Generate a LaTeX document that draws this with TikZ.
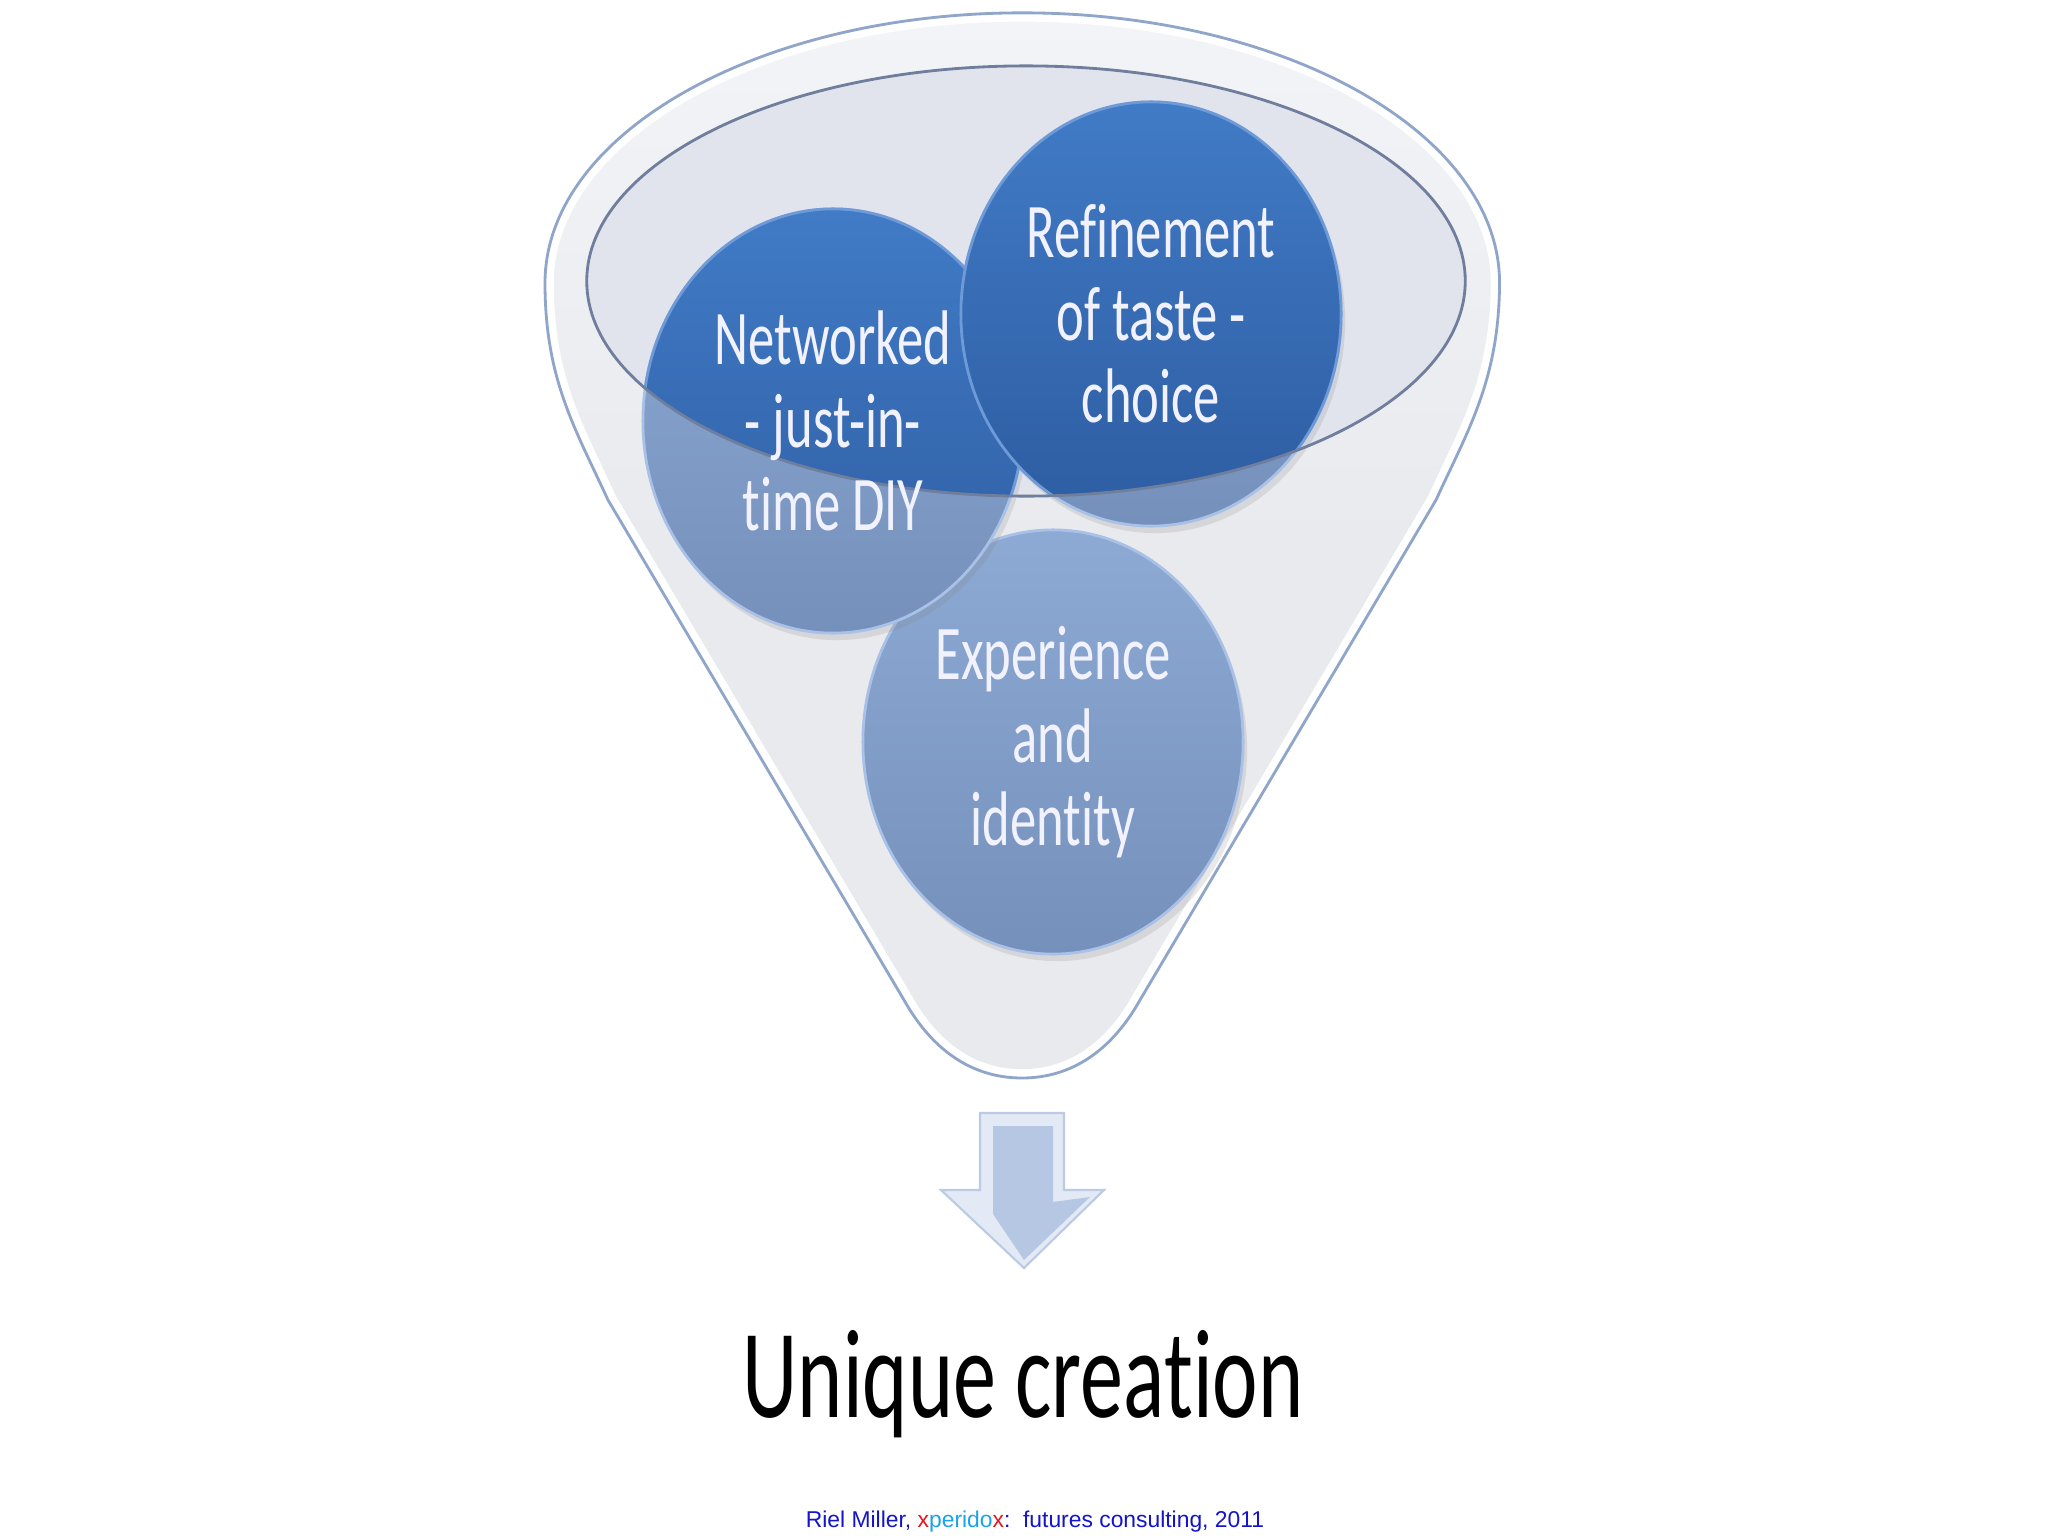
\documentclass[tikz,border=0pt]{standalone}
\usepackage{fontspec}
\usepackage{tikz}
\usetikzlibrary{shapes.geometric}
\usetikzlibrary{shadows}
\newfontfamily\bubblefont[FakeStretch=0.68,Ligatures={NoCommon,NoRequired,NoContextual}]{Carlito}
\newfontfamily\creditfont{Liberation Sans}
\definecolor{funnelfill}{HTML}{E9EAED}
\definecolor{rimband}{HTML}{F3F4F7}
\definecolor{rimfill}{HTML}{E1E4ED}
\definecolor{rimline}{HTML}{6E7E9C}
\definecolor{funneledge}{HTML}{8FA5C9}
\definecolor{paletop}{HTML}{8DAAD4}
\definecolor{palebot}{HTML}{7591BB}
\definecolor{paleedge}{HTML}{A9C1E6}
\definecolor{deeptop}{HTML}{417BC6}
\definecolor{deepbot}{HTML}{2D5CA1}
\definecolor{deepedge}{HTML}{6E9BD8}
\definecolor{arrowbevel}{HTML}{E3E9F5}
\definecolor{arrowbody}{HTML}{B6C7E4}
\definecolor{arrowedge}{HTML}{BCCAE3}
\definecolor{creditblue}{HTML}{1414C8}
\definecolor{creditred}{HTML}{E8141A}
\definecolor{creditcyan}{HTML}{1AA3E8}
\tikzset{%
    bubble/.style={ellipse,minimum width=3.8cm,minimum height=4.24cm,inner sep=0pt,outer sep=0pt},
    bubblepale/.style={bubble,top color=paletop,bottom color=palebot,draw=paleedge,line width=0.8pt,
        drop shadow={shadow xshift=0.4mm,shadow yshift=-0.7mm,opacity=0.18}},
    bubbledeep/.style={bubble,top color=deeptop,bottom color=deepbot,draw=deepedge,line width=0.8pt},
    bubbletext/.style={align=center,text=white!95!blue,inner sep=0pt,font=\bubblefont\fontsize{22}{23.5}\selectfont}
}

\begin{document}
\begin{tikzpicture}[x=0.01cm,y=-0.01cm]
        \useasboundingbox (0,0) rectangle (2048,1536);
        \fill[white] (0,0) rectangle (2048,1536);
        % funnel body
        \path[top color=rimband,bottom color=funnelfill,middle color=funnelfill,
            postaction={draw=white,line width=5pt},postaction={draw=funneledge,line width=0.8pt}]
            (545,283) arc[start angle=180,end angle=0,x radius=4.77cm,y radius=2.70cm]
            .. controls (1499,380) and (1468,430) .. (1436,500) -- (1140,1000)
            .. controls (1112,1050) and (1072,1078) .. (1022,1078)
            .. controls (972,1078) and (932,1050) .. (904,1000) -- (608,500)
            .. controls (576,430) and (545,380) .. (545,283) -- cycle;
        \fill[rimfill] (1026,281) ellipse [x radius=4.39cm,y radius=2.15cm];
        % bubbles seen through the glass
        \node[bubblepale] (exp) at (1053,742) {};
        \node[bubblepale] (net) at (833,421) {};
        \node[bubblepale] (ref) at (1151,314) {};
        % bubbles seen through the opening
        \begin{scope}
            \clip (1026,281) ellipse [x radius=4.39cm,y radius=2.15cm];
            \node[bubbledeep] (netTop) at (net) {};
            \node[bubbledeep] (refTop) at (ref) {};
        \end{scope}
        \draw[rimline,line width=0.8pt] (1026,281) ellipse [x radius=4.39cm,y radius=2.15cm];
        \node[bubbletext] (netText) at (net) {Networked\\- just-in-\\time DIY};
        \node[bubbletext] (refText) at (ref) {Refinement\\of taste -\\choice};
        \node[bubbletext] (expText) at (exp) {Experience\\and\\identity};
        % arrow
        \filldraw[fill=arrowbevel,draw=arrowedge,line width=0.6pt]
            (980,1113) -- (1064,1113) -- (1064,1190) -- (1104,1190) -- (1024,1268)
            -- (941,1190) -- (980,1190) -- cycle;
        \fill[arrowbody] (993,1126) -- (1053,1126) -- (1053,1202) -- (1090,1197)
            -- (1024,1260) -- (993,1214) -- cycle;
        \node[anchor=base,font=\bubblefont\fontsize{36}{40}\selectfont] (result) at (1023,1417) {Unique creation};
        \node[anchor=base,font=\creditfont\fontsize{6.5}{8}\selectfont] (credit) at (1035,1527)
            {\textcolor{creditblue}{Riel Miller,} \textcolor{creditred}{x}\textcolor{creditcyan}{perido}\textcolor{creditred}{x}\textcolor{creditblue}{:\ \ futures consulting, 2011}};
\end{tikzpicture}
\end{document}
